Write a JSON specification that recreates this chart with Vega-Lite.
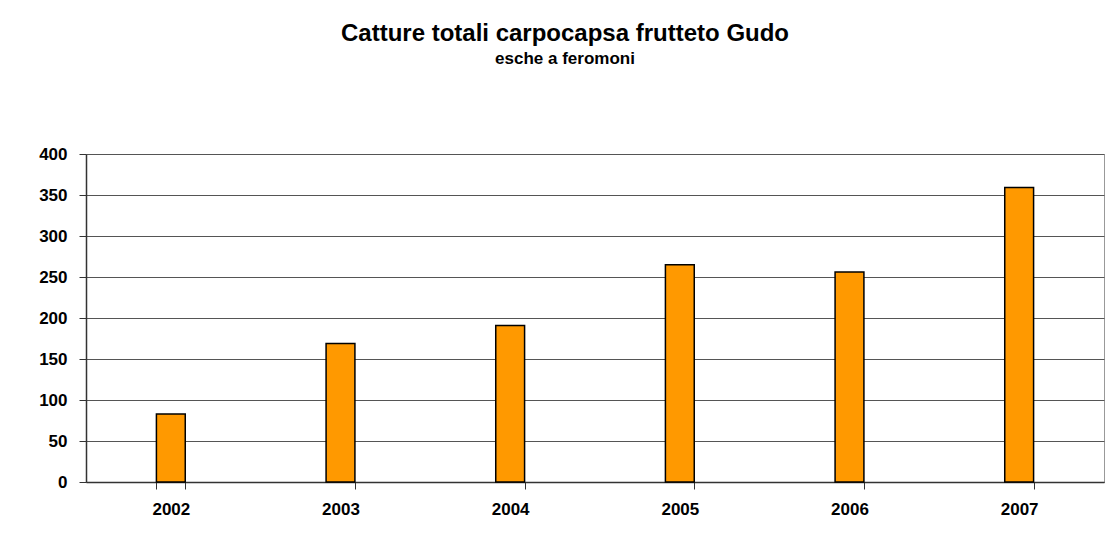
{
  "$schema": "https://vega.github.io/schema/vega-lite/v6.json",
  "width": 1018,
  "height": 328,
  "autosize": {"type": "none"},
  "padding": {"left": 86, "top": 154, "right": 11, "bottom": 59},
  "background": "white",
  "title": {
    "text": "Catture totali carpocapsa frutteto Gudo",
    "subtitle": "esche a feromoni",
    "font": "Liberation Sans",
    "fontSize": 24,
    "fontWeight": "bold",
    "color": "black",
    "subtitleFont": "Liberation Sans",
    "subtitleFontSize": 17,
    "subtitleFontWeight": "bold",
    "subtitleColor": "black",
    "subtitlePadding": 5,
    "anchor": "middle",
    "dx": -30,
    "offset": 78
  },
  "data": {
    "values": [
      {"anno": "2002", "catture": 83},
      {"anno": "2003", "catture": 169},
      {"anno": "2004", "catture": 191},
      {"anno": "2005", "catture": 265},
      {"anno": "2006", "catture": 256},
      {"anno": "2007", "catture": 359}
    ]
  },
  "mark": {"type": "bar", "fill": "#FF9900", "stroke": "black", "strokeWidth": 1.5},
  "encoding": {
    "x": {
      "field": "anno",
      "type": "ordinal",
      "scale": {"paddingInner": 0.83, "paddingOuter": 0.415},
      "axis": {
        "title": null,
        "labelAngle": 0,
        "labelFont": "Liberation Sans",
        "labelFontSize": 17,
        "labelFontWeight": "bold",
        "labelColor": "black",
        "labelPadding": 12,
        "tickBand": "extent",
        "tickSize": 7,
        "tickColor": "#333333",
        "domainColor": "#333333",
        "domainWidth": 1.5,
        "grid": false
      }
    },
    "y": {
      "field": "catture",
      "type": "quantitative",
      "scale": {"domain": [0, 400], "nice": false},
      "axis": {
        "title": null,
        "values": [0, 50, 100, 150, 200, 250, 300, 350, 400],
        "labelFont": "Liberation Sans",
        "labelFontSize": 17,
        "labelFontWeight": "bold",
        "labelColor": "black",
        "labelPadding": 12,
        "tickSize": 7,
        "tickColor": "#333333",
        "domainColor": "#333333",
        "domainWidth": 1.5,
        "grid": true,
        "gridColor": "#555555",
        "gridWidth": 1
      }
    }
  },
  "config": {
    "view": {"stroke": "#999999", "strokeWidth": 1}
  }
}
